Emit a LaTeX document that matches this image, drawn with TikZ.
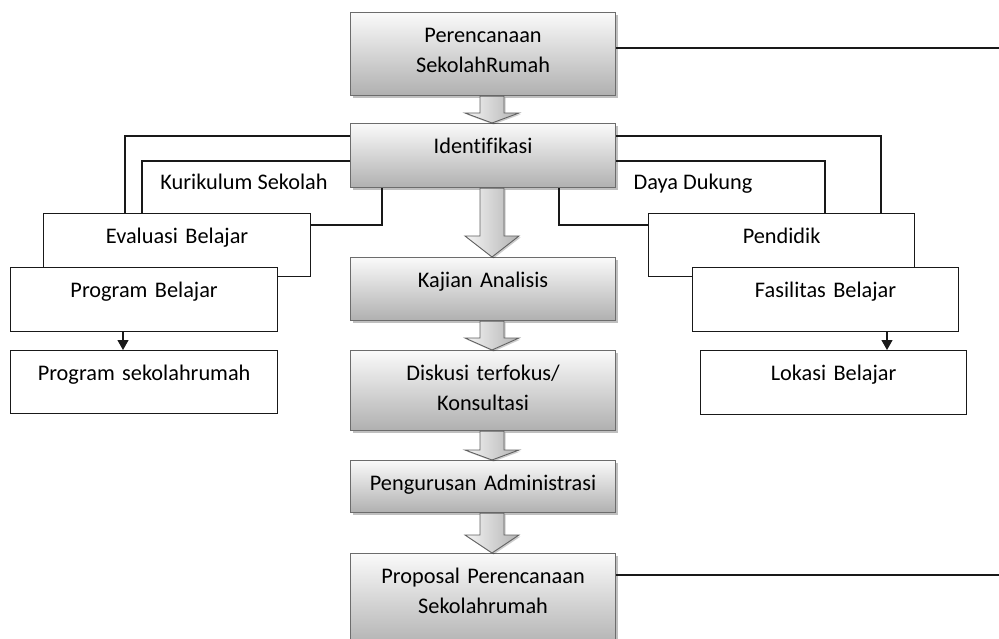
\documentclass[tikz,border=0pt]{standalone}
\usepackage{fontspec}
\setmainfont{Carlito}[Ligatures={NoCommon}]
\usetikzlibrary{shadows,arrows.meta,calc}
\tikzset{
  txt/.style={font=\fontsize{22.3}{30}\selectfont, text=black},
  boxbase/.style={txt, anchor=north west, inner sep=0pt, align=center, text height=30pt},
  gbox/.style={boxbase, draw=gray!85!black, line width=1.1pt, top color=gray!4, bottom color=gray!62,
     drop shadow={shadow xshift=2.5pt, shadow yshift=-2.5pt, fill=black, opacity=0.25}},
  wbox/.style={boxbase, draw=black!90, line width=1.2pt, fill=white},
  conn/.style={draw=black!90, line width=1.2pt},
  barrow/.style={draw=gray!75!black, line width=0.9pt, left color=gray!8, right color=gray!60,
     drop shadow={shadow xshift=1.5pt, shadow yshift=-1.5pt, fill=black, opacity=0.2}},
  lbl/.style={txt, anchor=base, inner sep=0pt}
}
\newcommand\blockarrow[3]{%
  \path[barrow] ($(#1.south -| 492,0)+(-12,0)$) -- ($(#2.north -| 492,0)+(-12,-#3)$) -- ++(-15,0)
    -- (#2.north -| 492,0) -- ++(27,-#3) -- ++(-15,0) -- ($(#1.south -| 492,0)+(12,0)$) -- cycle;}
\begin{document}
\begin{tikzpicture}[x=1pt,y=-1pt]
\useasboundingbox (0,0) rectangle (999,639);
\clip (0,0) rectangle (999,639);
% central column
\node[gbox, text width=265pt, text depth=53pt] (p1) at (350,12) {Perencanaan\\SekolahRumah};
\node[gbox, text width=265pt, text depth=34pt] (id) at (350,123) {Identifikasi};
\node[gbox, text width=265pt, text depth=33pt] (ka) at (350,257) {Kajian Analisis};
\node[gbox, text width=265pt, text depth=50pt] (dk) at (350,350) {Diskusi terfokus/\\Konsultasi};
\node[gbox, text width=265pt, text depth=22pt] (pa) at (350,460) {Pengurusan Administrasi};
\node[gbox, text width=265pt, text depth=65pt] (pp) at (350,553) {Proposal Perencanaan\\Sekolahrumah};
% block arrows
\blockarrow{p1}{id}{10}
\blockarrow{id}{ka}{21}
\blockarrow{ka}{dk}{12}
\blockarrow{dk}{pa}{10}
\blockarrow{pa}{pp}{18}
% left side
\node[wbox, text width=267pt, text depth=33pt] (ev) at (43,213) {Evaluasi Belajar};
\node[wbox, text width=267pt, text depth=34pt] (pb) at (10,267) {Program Belajar};
\node[wbox, text width=267pt, text depth=33pt] (ps) at (10,350) {Program sekolahrumah};
% right side
\node[wbox, text width=266pt, text depth=33pt] (pd) at (648,213) {Pendidik};
\node[wbox, text width=266pt, text depth=34pt] (fb) at (692,267) {Fasilitas Belajar};
\node[wbox, text width=266pt, text depth=34pt] (lb) at (700,350) {Lokasi Belajar};
% labels
\node[lbl] (kur) at (244,190) {Kurikulum Sekolah};
\node[lbl] (dd) at (693,190) {Daya Dukung};
% connectors
\draw[conn] (id.west |- 0,136) -| (ev.north -| 125,0);
\draw[conn] (id.west |- 0,161) -| (ev.north -| 142,0);
\draw[conn] (id.south -| 382,0) |- (ev.east |- 0,225);
\draw[conn] (id.east |- 0,136) -| (pd.north -| 881,0);
\draw[conn] (id.east |- 0,161) -| (pd.north -| 825,0);
\draw[conn] (id.south -| 559,0) |- (pd.west |- 0,225);
\coordinate (r1) at (999,48);
\coordinate (r2) at (999,575);
\draw[conn] (p1.east |- r1) -- (r1);
\draw[conn] (pp.east |- r2) -- (r2);
\draw[conn, -{Triangle[length=10pt,width=11pt]}] (pb.south -| 123,0) -- (ps.north -| 123,0);
\draw[conn, -{Triangle[length=10pt,width=11pt]}] (fb.south -| 887,0) -- (lb.north -| 887,0);
\end{tikzpicture}
\end{document}
